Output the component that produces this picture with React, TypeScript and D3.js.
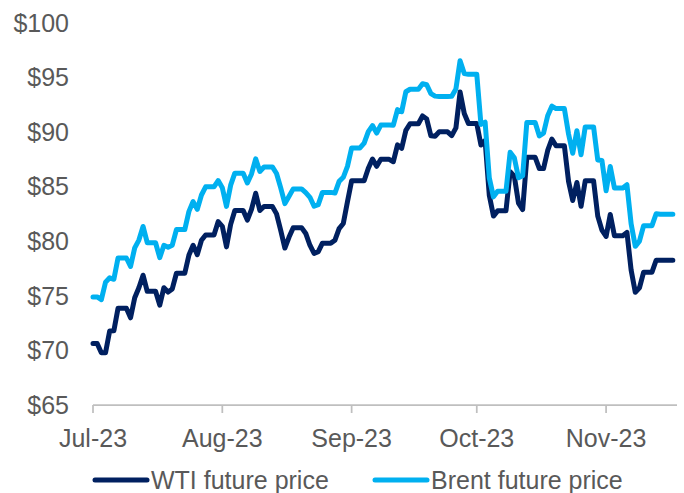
import React from 'react';
import * as d3 from 'd3';

// Daily closes (weekends/holidays carry the prior close), Jul 1 2023 onwards
const wtiJul = [70.64, 70.64, 69.79, 69.79, 71.79, 71.8, 73.86, 73.86, 73.86, 72.99, 74.83, 75.75, 76.89, 75.42, 75.42, 75.42, 74.15, 75.75, 75.35, 75.63, 77.07, 77.07, 77.07, 78.74, 79.63, 78.78, 80.09, 80.58, 80.58, 80.58, 81.8];
const wtiAug = [81.37, 79.49, 81.55, 82.82, 82.82, 82.82, 81.94, 82.92, 84.4, 82.82, 83.19, 83.19, 83.19, 82.51, 80.99, 79.38, 80.39, 81.25, 81.25, 81.25, 80.72, 79.64, 78.89, 79.05, 79.83, 79.83, 79.83, 80.1, 81.16, 81.63, 83.63];
const wtiSep = [85.55, 85.55, 85.55, 85.55, 86.69, 87.54, 86.87, 87.51, 87.51, 87.51, 87.29, 88.84, 88.52, 90.16, 90.77, 90.77, 90.77, 91.48, 91.2, 89.66, 89.63, 90.03, 90.03, 90.03, 89.68, 90.39, 93.68, 91.71, 90.79, 90.79];
const wtiOct = [90.79, 88.82, 89.23, 84.22, 82.31, 82.79, 82.79, 82.79, 86.38, 85.97, 83.49, 82.91, 87.69, 87.69, 87.69, 86.66, 86.66, 88.32, 89.37, 88.75, 88.75, 88.75, 85.49, 83.74, 85.39, 83.21, 85.54, 85.54, 85.54, 82.31, 81.02];
const wtiNov = [80.44, 82.46, 80.51, 80.51, 80.51, 80.82, 77.37, 75.33, 75.74, 77.17, 77.17, 77.17, 78.26, 78.26, 78.26, 78.26, 78.26];

const brentJul = [74.9, 74.9, 74.65, 76.25, 76.65, 76.52, 78.47, 78.47, 78.47, 77.69, 79.4, 80.11, 81.36, 79.87, 79.87, 79.87, 78.5, 79.63, 79.46, 79.64, 81.07, 81.07, 81.07, 82.74, 83.64, 82.92, 84.24, 84.99, 84.99, 84.99, 85.56];
const brentAug = [84.91, 83.2, 85.14, 86.24, 86.24, 86.24, 85.34, 86.17, 87.55, 86.4, 86.81, 86.81, 86.81, 86.21, 84.89, 83.45, 84.12, 84.8, 84.8, 84.8, 84.46, 84.03, 83.21, 83.36, 84.48, 84.48, 84.48, 84.42, 85.49, 85.86, 86.86];
const brentSep = [88.55, 88.55, 88.55, 88.99, 90.04, 90.6, 89.92, 90.65, 90.65, 90.65, 90.64, 92.06, 91.88, 93.7, 93.93, 93.93, 93.93, 94.43, 94.34, 93.53, 93.3, 93.27, 93.27, 93.27, 93.29, 93.96, 96.55, 95.38, 95.31, 95.31];
const brentOct = [95.31, 90.71, 90.92, 85.81, 84.07, 84.58, 84.58, 84.58, 88.15, 87.65, 85.82, 86.0, 90.89, 90.89, 90.89, 89.65, 89.9, 91.5, 92.38, 92.16, 92.16, 92.16, 89.83, 88.07, 90.13, 87.93, 90.48, 90.48, 90.48, 87.45, 87.41];
const brentNov = [84.63, 86.85, 84.89, 84.89, 84.89, 85.18, 81.61, 79.54, 80.01, 81.43, 81.43, 81.43, 82.52, 82.47, 82.47, 82.47, 82.47];

const yTicks = [65, 70, 75, 80, 85, 90, 95, 100];
const monthTicks = ['2023-07-01', '2023-08-01', '2023-09-01', '2023-10-01', '2023-11-01'];

const seriesNames = ['WTI future price', 'Brent future price'];
const colors = ['#002060', '#00b0f0'];

const start = new Date(Date.UTC(2023, 6, 1));
const wti = [...wtiJul, ...wtiAug, ...wtiSep, ...wtiOct, ...wtiNov];
const brent = [...brentJul, ...brentAug, ...brentSep, ...brentOct, ...brentNov];

const W = 684;
const H = 493;
const font = '"Liberation Sans", Arial, sans-serif';
const textColor = '#595959';

export default function App() {
  const x = d3.scaleUtc()
    .domain([start, d3.utcDay.offset(start, 140)])
    .range([93, 677]);
  const y = d3.scaleLinear().domain([65, 100]).range([405, 23]);

  const line = d3.line<number>()
    .x((_, i) => x(d3.utcDay.offset(start, i)))
    .y(d => y(d));

  const series = [wti, brent];

  return (
    <svg width={W} height={H} style={{ position: 'absolute', left: 0, top: 0, background: '#fff' }}
      fontFamily={font}>
      {yTicks.map(t => (
        <text key={t} x={69} y={y(t)} dy="0.35em" textAnchor="end" fontSize={25} fill={textColor}>
          ${t}
        </text>
      ))}
      <line x1={x.range()[0]} x2={x.range()[1]} y1={y(65)} y2={y(65)} stroke="#bfbfbf" strokeWidth={1.75} />
      {monthTicks.map(m => {
        const d = new Date(m + 'T00:00:00Z');
        const px = x(d);
        return (
          <g key={m}>
            <line x1={px} x2={px} y1={y(65)} y2={y(65) + 8} stroke="#bfbfbf" strokeWidth={1.75} />
            <text x={px} y={447} textAnchor="middle" fontSize={25} fill={textColor}>
              {d3.utcFormat('%b-%y')(d)}
            </text>
          </g>
        );
      })}
      {series.map((s, i) => (
        <path key={i} d={line(s) || ''} fill="none" stroke={colors[i]} strokeWidth={5}
          strokeLinejoin="round" strokeLinecap="round" />
      ))}
      {seriesNames.map((name, i) => {
        const lx = i === 0 ? 95 : 375;
        return (
          <g key={name}>
            <line x1={lx} x2={lx + 52} y1={480} y2={480} stroke={colors[i]} strokeWidth={5} strokeLinecap="round" />
            <text x={lx + 56} y={489} fontSize={25} fill={textColor}>{name}</text>
          </g>
        );
      })}
    </svg>
  );
}
